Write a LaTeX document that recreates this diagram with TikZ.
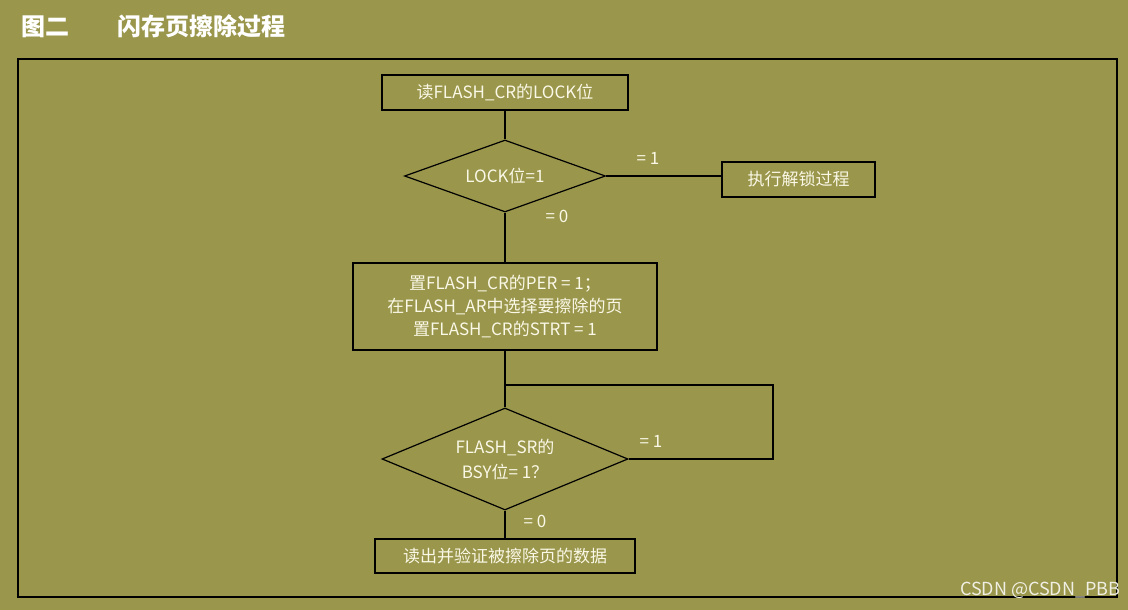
\documentclass[tikz,border=0pt]{standalone}
\usepackage{fontspec}
\setmainfont{Noto Sans CJK SC}
\usetikzlibrary{shapes.geometric}
\definecolor{olivebg}{RGB}{154,150,76}
\definecolor{cream}{RGB}{250,248,230}
\tikzset{
  box/.style={draw=black,line width=1.2pt,inner sep=0pt,text=cream,font=\fontsize{17}{23}\selectfont,align=center},
  dia/.style={draw=black,line width=1.2pt,diamond,inner sep=0pt,text=cream,font=\fontsize{17}{23}\selectfont,align=center},
  lab/.style={text=cream,font=\fontsize{17}{20}\selectfont},
  link/.style={draw=black,line width=1.2pt}
}
\begin{document}
\begin{tikzpicture}[x=1pt,y=-1pt]
\fill[olivebg] (0,0) rectangle (1128,610);
\useasboundingbox (0,0) rectangle (1128,610);
% title and frame
\node[anchor=west,text=white,font=\fontsize{24}{28}\selectfont\bfseries] (title) at (18,26) {图二\quad\quad 闪存页擦除过程};
\draw[line width=1.2pt] (18,59) rectangle (1117,597);
% flow
\node[box,minimum width=246pt,minimum height=35pt] (lock) at (505,92.5) {读FLASH\_CR的LOCK位};
\node[dia,minimum width=201pt,minimum height=72pt,aspect=2.8] (chk) at (505,176) {};
\node[lab] at (chk) {LOCK位=1};
\node[box,minimum width=153pt,minimum height=35pt] (unlock) at (798.5,179.5) {执行解锁过程};
\node[box,minimum width=304pt,minimum height=87pt] (per) at (505,306.5) {置FLASH\_CR的PER = 1；\\在FLASH\_AR中选择要擦除的页\\置FLASH\_CR的STRT = 1};
\node[dia,minimum width=246pt,minimum height=102pt,aspect=2.4] (bsy) at (505,459) {};
\node[lab,align=center,font=\fontsize{17}{25}\selectfont] at (bsy) {FLASH\_SR的\\BSY位= 1？};
\node[box,minimum width=260pt,minimum height=34pt] (read) at (505,556) {读出并验证被擦除页的数据};
\coordinate (loopa) at (505,385);
\coordinate (loopb) at (773,385);
\coordinate (loopc) at (773,459);
% connectors
\draw[link] (lock.south) -- (chk.north);
\draw[link] (chk.east) -- (chk.east -| unlock.west);
\draw[link] (chk.south) -- (per.north);
\draw[link] (per.south) -- (bsy.north);
\draw[link] (loopa) -- (loopb) -- (loopc) -- (bsy.east);
\draw[link] (bsy.south) -- (read.north);
% labels
\node[lab] at (648,158) {= 1};
\node[lab] at (557,216) {= 0};
\node[lab] at (651,441) {= 1};
\node[lab] at (535,521) {= 0};
\node[anchor=east,text=white!85!olivebg,font=\fontsize{18}{20}\selectfont] (mark) at (1124,590) {CSDN @CSDN\_PBB};
\end{tikzpicture}
\end{document}
